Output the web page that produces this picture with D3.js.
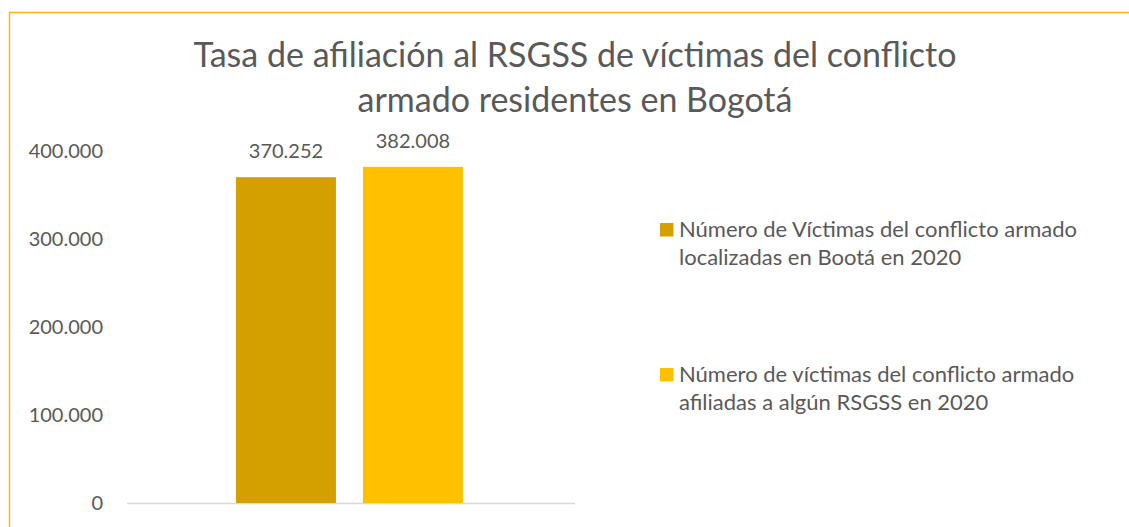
<!DOCTYPE html>
<html>
<head>
<meta charset="utf-8">
<script src="https://cdn.jsdelivr.net/npm/d3@7"></script>
<style>
  body { margin: 0; background: #fff; }
  text { font-family: Lato, "Open Sans", sans-serif; fill: #595959; }
</style>
</head>
<body>
<div id="chart"></div>
<script>
// data
const categories = ["Bogotá 2020"];
const seriesNames = [
  ["Número de Víctimas del conflicto armado", "localizadas en Bootá en 2020"],
  ["Número de víctimas del conflicto armado", "afiliadas a algún RSGSS en 2020"]
];
const seriesValues = [370252, 382008];
const seriesColors = ["#D4A000", "#FFC000"];
const yTicks = [0, 100000, 200000, 300000, 400000];
const titleLines = ["Tasa de afiliación al RSGSS de víctimas del conflicto", "armado residentes en Bogotá"];

const W = 1129, H = 527;
const svg = d3.select("#chart").append("svg")
  .attr("width", W).attr("height", H);

// frame (only top and left edges visible)
svg.append("rect")
  .attr("x", 9.5).attr("y", 12.5)
  .attr("width", W + 20).attr("height", H + 20)
  .attr("fill", "none").attr("stroke", "#F9B519").attr("stroke-width", 1.5);

// title
svg.append("g").selectAll("text")
  .data(titleLines).enter().append("text")
  .attr("x", 575).attr("y", (d, i) => 67 + i * 45)
  .attr("text-anchor", "middle")
  .style("font-size", "34px")
  .text(d => d);

const plot = {left: 127, right: 575, top: 107, bottom: 503};

const y = d3.scaleLinear().domain([0, 450000]).range([plot.bottom, plot.top]);
const x0 = d3.scaleBand().domain(categories).range([plot.left, plot.right])
  .paddingOuter(0.487).align(0.493);
const x1 = d3.scaleBand().domain(d3.range(seriesValues.length)).range([0, x0.bandwidth()]).paddingInner(0.2126);

const fmt = v => d3.format(",")(v).replace(/,/g, ".");

// y axis labels
const yAxis = d3.axisLeft(y).tickValues(yTicks).tickSize(0).tickPadding(0).tickFormat(fmt);
svg.append("g").attr("transform", "translate(103,0)").call(yAxis)
  .call(g => g.select(".domain").remove())
  .call(g => g.selectAll("text").style("font-size", "20px").attr("fill", "#595959")
    .style("font-family", "Lato, 'Open Sans', sans-serif"));

// baseline
svg.append("line")
  .attr("x1", plot.left).attr("x2", plot.right)
  .attr("y1", y(0) + 0.5).attr("y2", y(0) + 0.5)
  .attr("stroke", "#D9D9D9").attr("stroke-width", 1.5);

const grp = svg.append("g").attr("transform", `translate(${x0(categories[0])},0)`);
grp.selectAll("rect").data(seriesValues).enter().append("rect")
  .attr("x", (d, i) => x1(i))
  .attr("y", d => y(d))
  .attr("width", x1.bandwidth())
  .attr("height", d => y(0) - y(d))
  .attr("fill", (d, i) => seriesColors[i]);

grp.selectAll("text.lbl").data(seriesValues).enter().append("text")
  .attr("class", "lbl")
  .attr("x", (d, i) => x1(i) + x1.bandwidth() / 2)
  .attr("y", d => y(d) - 19)
  .attr("text-anchor", "middle")
  .style("font-size", "20px")
  .attr("fill", "#404040")
  .text(d => fmt(d));

// legend
const leg = svg.append("g");
const items = leg.selectAll("g").data(seriesNames).enter().append("g")
  .attr("transform", (d, i) => `translate(660,${223 + i * 145})`);
items.append("rect").attr("width", 13.5).attr("height", 13.5)
  .attr("fill", (d, i) => seriesColors[i]);
items.selectAll("text").data(d => d).enter().append("text")
  .attr("x", 19).attr("y", (d, j) => 14 + j * 28)
  .style("font-size", "22px")
  .text(d => d);
</script>
</body>
</html>
